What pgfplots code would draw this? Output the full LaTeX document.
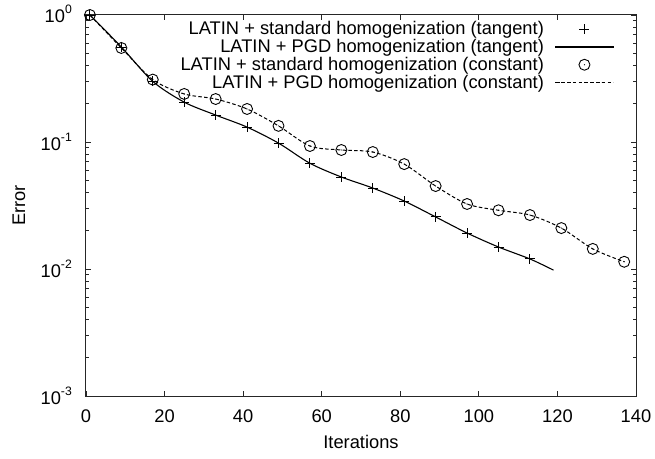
\documentclass[border=0pt]{standalone}
\usepackage{fontspec}
\setmainfont{Liberation Sans}
\usepackage{pgfplots}
\pgfplotsset{compat=1.18}
\newcommand{\sci}[1]{10\raisebox{9pt}{\fontsize{12.2}{12.2}\selectfont #1}}
\pgfdeclareplotmark{odot}{%
  \pgfpathcircle{\pgfpointorigin}{\pgfplotmarksize}\pgfusepathqstroke
  \pgfpathcircle{\pgfpointorigin}{0.6pt}\pgfusepathqfill}
\pgfplotstableread{
x y
1 1.0
9 0.56
17 0.30
25 0.206
33 0.163
41 0.131
49 0.098
57 0.068
65 0.053
73 0.0434
81 0.0343
89 0.0257
97 0.0192
105 0.0149
113 0.0120
}\tangmarks
\pgfplotstableread{
x y
1 1.0
9 0.56
17 0.30
25 0.206
33 0.163
41 0.131
49 0.098
57 0.068
65 0.053
73 0.0434
81 0.0343
89 0.0257
97 0.0192
105 0.0149
113 0.0120
119 0.0098
}\tangline
\pgfplotstableread{
x y
1 1.0
9 0.55
17 0.31
25 0.239
33 0.218
41 0.182
49 0.134
57 0.093
65 0.0865
73 0.0834
81 0.067
89 0.045
97 0.0325
105 0.029
113 0.0266
121 0.021
129 0.0144
137 0.0114
}\const
\begin{document}
\begin{tikzpicture}
\begin{axis}[
  scale only axis,
  width=550pt, height=381pt,
  xmin=0, xmax=140,
  ymode=log, ymin=1e-3, ymax=1,
  xtick={0,20,40,60,80,100,120,140},
  ytick={1e-3,1e-2,1e-1,1},
  yticklabels={\sci{-3},\sci{-2},\sci{-1},\sci{0}},
  /pgf/number format/assume math mode=true,
  tick align=inside,
  major tick length=5pt,
  minor tick length=3pt,
  axis line style={line width=1pt, black!85},
  every tick/.style={black!85, line width=0.8pt},
  ticklabel style={font=\fontsize{18.3}{18.3}\selectfont, inner sep=0pt},
  xticklabel style={anchor=center, yshift=-20pt},
  yticklabel style={anchor=base east, xshift=-14pt, yshift=-8pt},
  xlabel={Iterations}, ylabel={Error},
  label style={font=\fontsize{18.3}{18.3}\selectfont, inner sep=0pt},
  xlabel style={at={(axis description cs:0.5,-0.1207)}, anchor=center},
  ylabel style={at={(axis description cs:-0.1218,0.5)}, anchor=center, rotate=0},
  clip=false,
  legend plot pos=right,
  legend cell align=right,
  legend image code/.code={\draw[mark repeat=2,mark phase=2,#1] plot coordinates {(0pt,0pt) (29pt,0pt) (58pt,0pt)};},
  legend style={draw=none, fill=none, at={(1,1)}, anchor=north east,
    xshift=-22pt, yshift=-5.5pt, inner sep=0pt, outer sep=0pt,
    column sep=11pt, row sep=0pt,
    font=\fontsize{18.3}{18.3}\selectfont,
    nodes={inner sep=0pt, text height=14.5pt, text depth=3.2pt}},
]
\addplot[only marks, mark=+, mark size=5pt, line width=0.9pt, black] table[x=x,y=y] {\tangmarks};
\addlegendentry{LATIN + standard homogenization (tangent)}
\addplot[smooth, no marks, line width=1.1pt, black] table[x=x,y=y] {\tangline};
\addlegendentry{LATIN + PGD homogenization (tangent)}
\addplot[only marks, mark=odot, mark size=5.5pt, line width=0.9pt, black] table[x=x,y=y] {\const};
\addlegendentry{LATIN + standard homogenization (constant)}
\addplot[smooth, no marks, line width=1pt, black, dash pattern=on 3.5pt off 2.3pt] table[x=x,y=y] {\const};
\addlegendentry{LATIN + PGD homogenization (constant)}
\end{axis}
\pgfresetboundingbox
\path ([xshift=-86pt,yshift=-62pt]current axis.south west) rectangle ([xshift=19pt,yshift=15pt]current axis.north east);
\end{tikzpicture}
\end{document}
